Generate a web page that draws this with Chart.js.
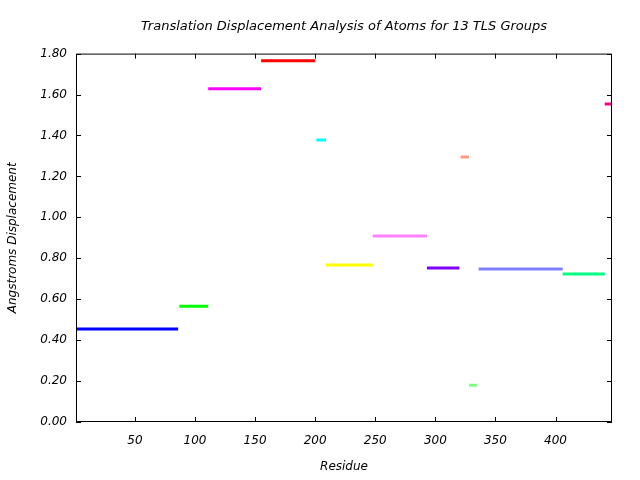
<!DOCTYPE html>
<html>
<head>
<meta charset="utf-8">
<script src="https://cdn.jsdelivr.net/npm/chart.js@4/dist/chart.umd.min.js"></script>
<style>
  html, body { margin: 0; padding: 0; background: #fff; }
  #wrap { width: 640px; height: 480px; }
</style>
</head>
<body>
<div id="wrap"><canvas id="chart-1"></canvas></div>
<script>
// one segment per TLS group: residue range and displacement
const groupStart = [1, 87, 111, 155, 201, 209, 248, 293, 321, 328, 336, 406, 441];
const groupEnd   = [86, 111, 155, 200, 209, 248, 293, 320, 328, 335, 406, 441, 447];
const groupValue = [0.454, 0.566, 1.628, 1.765, 1.378, 0.767, 0.909, 0.752, 1.295, 0.180, 0.747, 0.723, 1.554];
const groupColors = ['#0000ff', '#00ff00', '#ff00ff', '#ff0000', '#00ffff', '#ffff00', '#ff80ff',
                     '#8000ff', '#ff9980', '#80ff80', '#8080ff', '#00ff80', '#ff0080'];
const xTicks = [50, 100, 150, 200, 250, 300, 350, 400];
const yTicks = [0, 0.2, 0.4, 0.6, 0.8, 1.0, 1.2, 1.4, 1.6, 1.8];

const fontName = "'DejaVu Sans', sans-serif";

var datasets = [];
groupStart.forEach((s, i) => {
    datasets.push({
        label: 'Group ' + (i + 1),
        data: [{x: s, y: groupValue[i]}, {x: groupEnd[i], y: groupValue[i]}],
        borderColor: groupColors[i],
        backgroundColor: groupColors[i],
        borderWidth: 3,
        borderCapStyle: 'butt',
        showLine: true,
        pointRadius: 0
    });
});

// gnuplot style frame with inward ticks on all four sides
const framePlugin = {
    id: 'frame',
    afterDatasetsDraw(chart) {
        const c = chart.ctx, a = chart.chartArea;
        const xs = chart.scales.x, ys = chart.scales.y;
        c.save();
        c.strokeStyle = '#000';
        c.lineWidth = 1;
        c.strokeRect(a.left + 0.5, a.top + 0.5, a.right - a.left - 1, a.bottom - a.top - 1);
        c.beginPath();
        xTicks.forEach(t => {
            const px = Math.round(xs.getPixelForValue(t)) + 0.5;
            c.moveTo(px, a.bottom); c.lineTo(px, a.bottom - 5);
            c.moveTo(px, a.top); c.lineTo(px, a.top + 5);
        });
        yTicks.forEach(t => {
            const py = Math.round(ys.getPixelForValue(t)) + 0.5;
            c.moveTo(a.left, py); c.lineTo(a.left + 5, py);
            c.moveTo(a.right, py); c.lineTo(a.right - 5, py);
        });
        c.stroke();
        c.restore();
    }
};

const ctx = document.getElementById('chart-1').getContext('2d');

var myChart = new Chart(ctx, {
    type: 'scatter',
    data: { datasets: datasets },
    plugins: [framePlugin],
    options: {
        responsive: true,
        maintainAspectRatio: false,
        animation: false,
        layout: { padding: { left: 0, right: 28, top: 4, bottom: 0 } },
        plugins: {
            legend: { display: false },
            tooltip: { enabled: false },
            title: {
                display: true,
                fullSize: false,
                text: 'Translation Displacement Analysis of Atoms for 13 TLS Groups',
                color: '#000',
                font: { family: fontName, size: 13, style: 'italic', weight: 'normal' },
                padding: { top: 15, bottom: 19 }
            }
        },
        scales: {
            x: {
                type: 'linear',
                min: 1,
                max: 447,
                afterBuildTicks: s => { s.ticks = xTicks.map(v => ({value: v})); },
                afterFit: s => { s.height = 58; },
                grid: { display: false, drawTicks: false },
                border: { display: false },
                ticks: {
                    padding: 12,
                    color: '#000',
                    maxRotation: 0,
                    font: { family: fontName, size: 12, style: 'italic' }
                },
                title: {
                    display: true,
                    text: 'Residue',
                    color: '#000',
                    font: { family: fontName, size: 12, style: 'italic' },
                    padding: { top: 4, bottom: 6 }
                }
            },
            y: {
                min: 0,
                max: 1.8,
                afterBuildTicks: s => { s.ticks = yTicks.map(v => ({value: v})); },
                afterFit: s => { s.width = 76; },
                grid: { display: false, drawTicks: false },
                border: { display: false },
                ticks: {
                    padding: 9,
                    color: '#000',
                    font: { family: fontName, size: 12, style: 'italic' },
                    callback: v => v.toFixed(2)
                },
                title: {
                    display: true,
                    text: 'Angstroms Displacement',
                    color: '#000',
                    font: { family: fontName, size: 12, style: 'italic' },
                    padding: { top: 6, bottom: 4 }
                }
            }
        }
    }
});
</script>
</body>
</html>
